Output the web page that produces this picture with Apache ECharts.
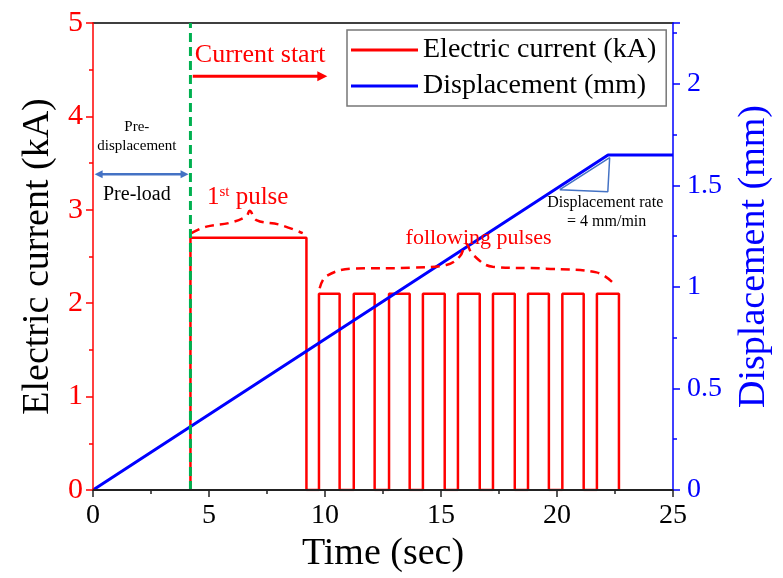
<!DOCTYPE html>
<html>
<head>
<meta charset="utf-8">
<script src="https://cdn.jsdelivr.net/npm/echarts@6/dist/echarts.min.js"></script>
<style>html,body{margin:0;padding:0;background:#fff}#c{width:783px;height:578px}</style>
</head>
<body>
<div id="c"></div>
<script>
// ---- data ----
var xTicks = [0, 5, 10, 15, 20, 25];
var currentStart = 4.2;
var firstPulseEnd = 9.2;
var firstPulseLevel = 2.7;
var pulseLevel = 2.1;
var pulseOn  = [9.74, 11.24, 12.76, 14.22, 15.73, 17.24, 18.75, 20.23, 21.72];
var pulseOff = [10.63, 12.14, 13.65, 15.16, 16.67, 18.18, 19.65, 21.15, 22.67];
var dispTime = [0, 22.2, 25];
var dispValue = [0, 1.65, 1.65];
// annotation shapes (data units, left axis)
var brace1X = [4.24, 4.89, 5.89, 6.61, 6.75, 7.04, 8.05, 9.04];
var brace1Y = [2.75, 2.82, 2.86, 2.93, 2.99, 2.89, 2.84, 2.75];
var brace2X = [9.77, 10.06, 11.19, 13.78, 15.23, 15.81, 16.09, 16.37, 17.23, 19.54, 21.70, 22.49];
var brace2Y = [2.16, 2.29, 2.37, 2.38, 2.41, 2.50, 2.63, 2.52, 2.39, 2.37, 2.33, 2.20];
var triX = [20.12, 22.19, 22.27, 20.12];
var triY = [3.215, 3.194, 3.558, 3.215];

var FONT = '"Liberation Serif","Times New Roman",serif';

var currentData = [[currentStart, 0], [currentStart, firstPulseLevel], [firstPulseEnd, firstPulseLevel], [firstPulseEnd, 0]];
for (var i = 0; i < pulseOn.length; i++) {
  currentData.push([pulseOn[i], 0], [pulseOn[i], pulseLevel], [pulseOff[i], pulseLevel], [pulseOff[i], 0]);
}
var dispData = dispTime.map(function (t, i) { return [t, dispValue[i]]; });
function zip(a, b) { return a.map(function (v, i) { return [v, b[i]]; }); }

var chart = echarts.init(document.getElementById('c'), null, {renderer: 'canvas'});
var option = {
  animation: false,
  backgroundColor: '#fff',
  grid: {left: 93, right: 110, top: 23, bottom: 88, containLabel: false},
  legend: {
    data: ['Electric current (kA)', 'Displacement (mm)'],
    orient: 'vertical', left: 347, top: 30,
    icon: 'rect', itemWidth: 67, itemHeight: 3, itemGap: 8,
    padding: [6, 10, 6, 4],
    borderColor: '#777', borderWidth: 1.5, backgroundColor: '#fff',
    textStyle: {fontFamily: FONT, fontSize: 28, color: '#000'}
  },
  xAxis: [{
    type: 'value', min: 0, max: 25, interval: 5,
    name: 'Time (sec)', nameLocation: 'middle', nameGap: 44,
    nameTextStyle: {fontFamily: FONT, fontSize: 38, color: '#000'},
    axisLine: {onZero: false, lineStyle: {color: '#222', width: 2}}, z: 5,
    axisTick: {length: 7, lineStyle: {color: '#222', width: 1.5}},
    minorTick: {show: true, splitNumber: 2, length: 4, lineStyle: {color: '#222', width: 1.5}},
    axisLabel: {fontFamily: FONT, fontSize: 28, color: '#000', margin: 12,
      customValues: xTicks},
    splitLine: {show: false}
  }, {
    type: 'value', min: 0, max: 25, position: 'top',
    axisLine: {show: true, onZero: false, lineStyle: {color: '#000', width: 1.5}},
    axisTick: {show: false}, axisLabel: {show: false}, splitLine: {show: false}
  }],
  yAxis: [{
    type: 'value', min: 0, max: 5, interval: 1, position: 'left',
    name: 'Electric current (kA)', nameLocation: 'middle', nameGap: 34,
    nameTextStyle: {fontFamily: FONT, fontSize: 38, color: '#000'},
    axisLine: {show: true, onZero: false, lineStyle: {color: '#ff0000', width: 1.5}}, z: 5,
    axisTick: {length: 7, lineStyle: {color: '#ff0000', width: 1.5}},
    minorTick: {show: true, splitNumber: 2, length: 4, lineStyle: {color: '#ff0000', width: 1.5}},
    axisLabel: {fontFamily: FONT, fontSize: 30, color: '#ff0000', margin: 10},
    splitLine: {show: false}
  }, {
    type: 'value', min: 0, max: 2.3, interval: 0.5, position: 'right',
    name: 'Displacement (mm)', nameLocation: 'middle', nameGap: 62,
    nameTextStyle: {fontFamily: FONT, fontSize: 38, color: '#0000ff'},
    axisLine: {show: true, onZero: false, lineStyle: {color: '#0000ff', width: 1.5}}, z: 5,
    axisTick: {length: 7, lineStyle: {color: '#0000ff', width: 1.5}},
    minorTick: {show: true, splitNumber: 2, length: 4, lineStyle: {color: '#0000ff', width: 1.5}},
    axisLabel: {fontFamily: FONT, fontSize: 28, color: '#0000ff', margin: 14, showMaxLabel: false},
    splitLine: {show: false}
  }],
  series: [
    {name: 'Electric current (kA)', type: 'line', data: currentData, showSymbol: false, symbol: 'none',
      lineStyle: {color: '#ff0000', width: 2.5}, itemStyle: {color: '#ff0000'}, z: 2},
    {name: 'Displacement (mm)', type: 'line', yAxisIndex: 1, data: dispData, showSymbol: false, symbol: 'none',
      lineStyle: {color: '#0000ff', width: 3}, itemStyle: {color: '#0000ff'}, z: 3},
    {name: 'start', type: 'line', data: [[currentStart, 0], [currentStart, 5]], symbol: 'none',
      lineStyle: {color: '#00b050', width: 3, type: [9, 5]}, z: 4},
    {name: 'brace1', type: 'line', data: zip(brace1X, brace1Y), symbol: 'none', smooth: 0.4,
      lineStyle: {color: '#ff0000', width: 2.5, type: [9, 6]}},
    {name: 'brace2', type: 'line', data: zip(brace2X, brace2Y), symbol: 'none', smooth: 0.4,
      lineStyle: {color: '#ff0000', width: 2.5, type: [9, 6]}},
    {name: 'tri', type: 'line', data: zip(triX, triY), symbol: 'none',
      lineStyle: {color: '#4472c4', width: 1.5}}
  ]
};
chart.setOption(option);

function px(x, y) { return chart.convertToPixel({xAxisIndex: 0, yAxisIndex: 0}, [x, y]); }
function arrowHead(tip, dir, color, len, half) {
  return {type: 'polygon', shape: {points: [tip, [tip[0] - dir * len, tip[1] - half], [tip[0] - dir * len, tip[1] + half]]},
    style: {fill: color}, z: 10};
}
var g = [];
// red arrow (current start)
var a1 = px(4.3, 4.43), a2 = px(10.1, 4.43);
g.push({type: 'line', shape: {x1: a1[0], y1: a1[1], x2: a2[0] - 8, y2: a2[1]}, style: {stroke: '#ff0000', lineWidth: 3}, z: 10});
g.push(arrowHead(a2, 1, '#ff0000', 10, 5));
// blue double arrow (pre-load)
var b1 = px(0.07, 3.38), b2 = px(4.12, 3.38);
g.push({type: 'line', shape: {x1: b1[0] + 7, y1: b1[1], x2: b2[0] - 7, y2: b2[1]}, style: {stroke: '#4472c4', lineWidth: 2.5}, z: 10});
g.push(arrowHead(b1, -1, '#4472c4', 8, 4));
g.push(arrowHead(b2, 1, '#4472c4', 8, 4));
function txt(x, y, text, size, color, align, extra) {
  var p = px(x, y);
  var s = {text: text, fill: color, font: size + 'px ' + FONT, align: align || 'center', verticalAlign: 'middle'};
  if (extra) for (var k in extra) s[k] = extra[k];
  return {type: 'text', x: p[0], y: p[1], style: s, z: 11};
}
g.push(txt(4.39, 4.66, 'Current start', 26, '#ff0000', 'left'));
g.push(txt(1.89, 3.78, 'Pre-\ndisplacement', 15, '#000', 'center', {lineHeight: 19}));
g.push(txt(1.89, 3.16, 'Pre-load', 20, '#000'));
var p1 = px(4.91, 3.13);
g.push({type: 'text', x: p1[0], y: p1[1], z: 11, style: {
  text: '{n|1}{s|st}{n| pulse}', align: 'left', verticalAlign: 'middle',
  rich: {n: {fontFamily: FONT, fontSize: 25, fill: '#ff0000', color: '#ff0000'},
         s: {fontFamily: FONT, fontSize: 15, fill: '#ff0000', color: '#ff0000', padding: [0, 0, 12, 0]}}}});
g.push(txt(16.62, 2.70, 'following pulses', 22, '#ff0000'));
g.push(txt(22.08, 3.08, 'Displacement rate', 16, '#000'));
g.push(txt(22.14, 2.87, '= 4 mm/min', 16, '#000'));
chart.setOption({graphic: {elements: g}});
</script>
</body>
</html>
